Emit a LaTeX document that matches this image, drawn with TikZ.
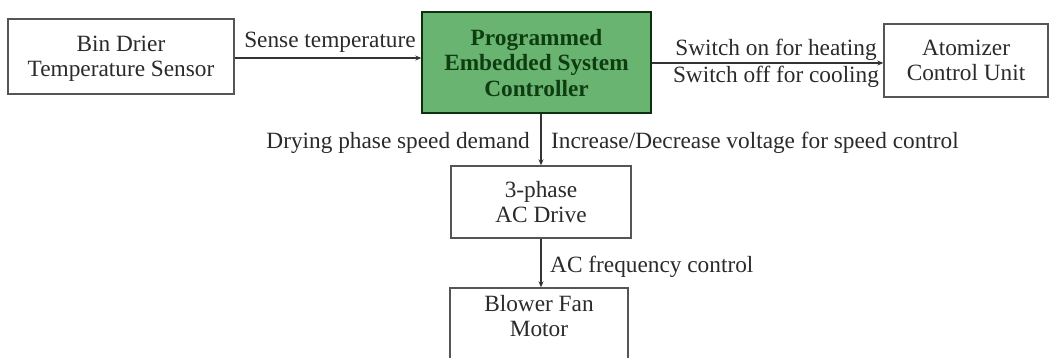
\documentclass[tikz,border=0pt]{standalone}
\usepackage{fontspec}
\setmainfont{Liberation Serif}
\usetikzlibrary{arrows.meta}
\definecolor{boxgray}{HTML}{555555}
\definecolor{txtgray}{HTML}{2A2A2A}
\definecolor{ctrlgreen}{HTML}{68B470}
\definecolor{ctrltext}{HTML}{0F3D12}
\begin{document}
\begin{tikzpicture}[x=1pt,y=-1pt,
  font=\fontsize{23.3}{25.5}\selectfont,
  blk/.style={draw=boxgray, line width=1.4pt, fill=white, align=center, text=txtgray, inner sep=0pt},
  lbl/.style={text=txtgray, inner sep=0pt},
  conn/.style={draw=black!80, line width=1.1pt, -{Stealth[length=6pt,width=5pt]}}]
\useasboundingbox (0,0) rectangle (1051,357);
\begin{scope}
\clip (0,0) rectangle (1051,357);
\node[blk, minimum width=226pt, minimum height=75pt, text depth=0pt] (bin) at (121,56.5) {Bin Drier\\Temperature Sensor};
\node[blk, fill=ctrlgreen, draw=ctrltext!80!black, text=ctrltext, font=\fontsize{23.3}{25.5}\selectfont\bfseries, minimum width=229pt, minimum height=101pt, text depth=0pt] (ctrl) at (536.5,62.5) {Programmed\\Embedded System\\Controller};
\node[blk, minimum width=164pt, minimum height=73pt, text depth=0pt] (atom) at (966,60.5) {Atomizer\\Control Unit};
\node[blk, minimum width=180pt, minimum height=72pt] (drive) at (541,202) {3-phase\\AC Drive};
\node[blk, minimum width=178pt, minimum height=76pt, text depth=20pt] (blower) at (539,326) {Blower Fan\\Motor};
\end{scope}
\draw[conn] (bin.east |- 0,58) -- (ctrl.west |- 0,58);
\draw[conn] (ctrl.east |- 0,63) -- (atom.west |- 0,63);
\draw[conn] (drive.north |- ctrl.south) -- (drive.north);
\draw[conn] (drive.south) -- (blower.north -| drive.south);
\node[lbl] (lsense) at (330,42) {Sense temperature};
\node[lbl] (lon) at (776,50) {Switch on for heating};
\node[lbl] (loff) at (776,77) {Switch off for cooling};
\node[lbl, anchor=east] (ldry) at (530,143) {Drying phase speed demand};
\node[lbl, anchor=west] (linc) at (551,143) {Increase/Decrease voltage for speed control};
\node[lbl, anchor=west] (lac) at (550,267) {AC frequency control};
\end{tikzpicture}
\end{document}
